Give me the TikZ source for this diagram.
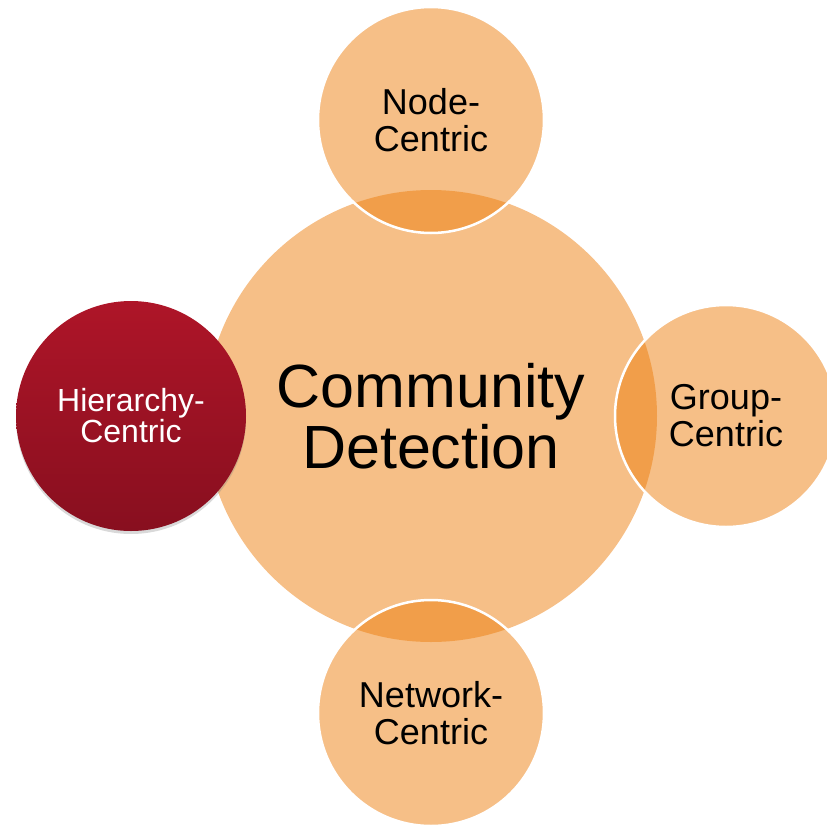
\documentclass[tikz,border=0pt]{standalone}
\usepackage{fontspec}
\setmainfont{Liberation Sans}
\usetikzlibrary{shadows}
\definecolor{lightorange}{RGB}{246,191,135}
\definecolor{deeporange}{RGB}{237,127,15}
\definecolor{redtop}{RGB}{174,21,40}
\definecolor{redbottom}{RGB}{136,15,31}
\begin{document}
\begin{tikzpicture}[x=1pt,y=-1pt,
  hub/.style={circle, inner sep=0pt, minimum size=452pt, fill=lightorange,
    align=center, font=\fontsize{61}{61}\selectfont},
  sat/.style={circle, inner sep=0pt, minimum size=226pt, fill=deeporange,
    fill opacity=0.5, text opacity=1, draw=white, line width=2.5pt,
    align=center, font=\fontsize{36}{37}\selectfont},
  hier/.style={circle, inner sep=0pt, minimum size=230pt,
    top color=redtop, bottom color=redbottom, draw=none, text=white,
    align=center, font=\fontsize{32}{31}\selectfont,
    drop shadow={opacity=0.3, shadow xshift=0pt, shadow yshift=-3pt}}]
\useasboundingbox (0,0) rectangle (827,828);
\node[hub] (cd) at (431,416) {Community\\Detection};
\node[sat] (nc) at (431,120) {Node-\\Centric};
\node[sat, minimum size=222pt] (gc) at (726,416) {Group-\\Centric};
\node[sat] (wc) at (431,713) {Network-\\Centric};
\node[hier] (hc) at (131,416) {Hierarchy-\\Centric};
\end{tikzpicture}
\end{document}
